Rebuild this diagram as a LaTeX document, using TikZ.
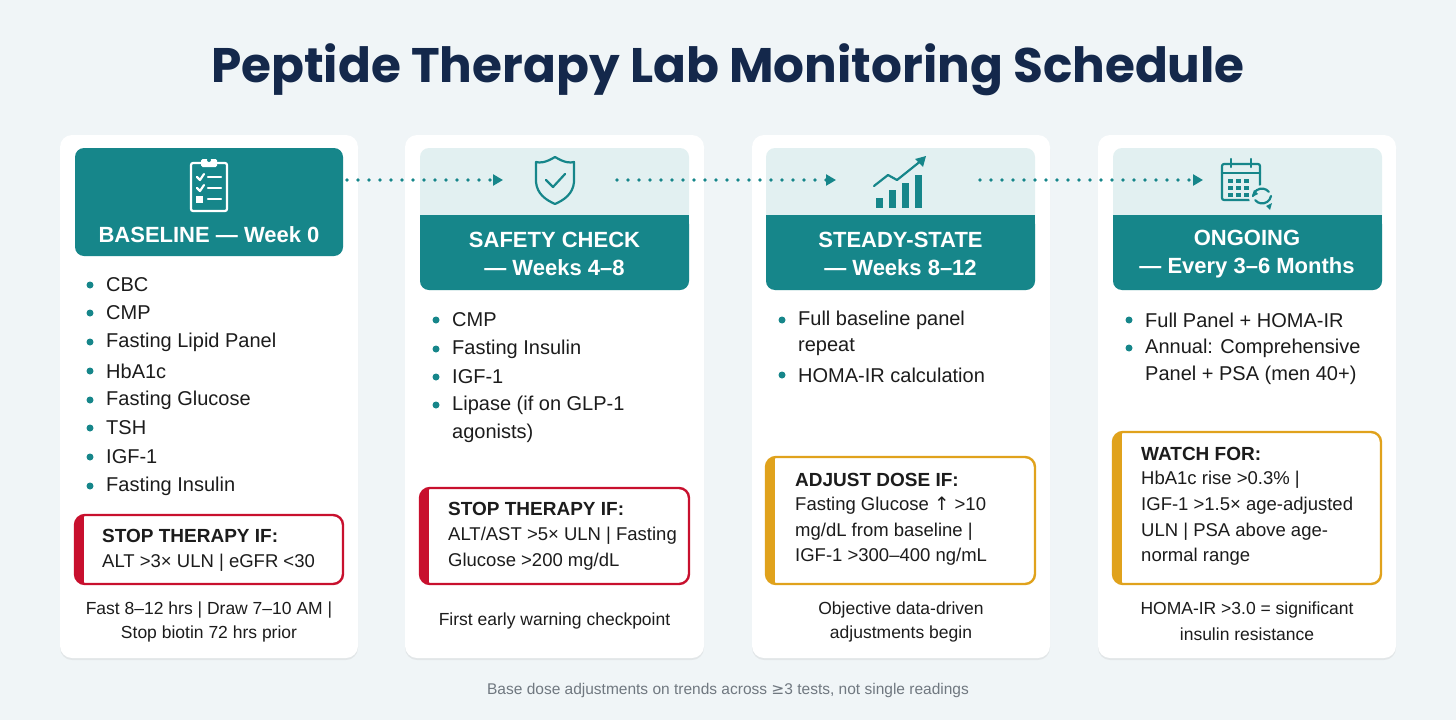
\documentclass[tikz,border=0pt]{standalone}
\usepackage{fontspec}
\setmainfont{Liberation Sans}
\newfontfamily\titlefont{Poppins}
\newfontfamily\symfont{DejaVu Sans}
\usetikzlibrary{arrows.meta,shadows}
\definecolor{bg}{HTML}{F0F5F7}
\definecolor{teal}{HTML}{16868A}
\definecolor{lteal}{HTML}{E2F0F1}
\definecolor{navy}{HTML}{14284B}
\definecolor{ink}{HTML}{1C1C1C}
\definecolor{red}{HTML}{C8102E}
\definecolor{gold}{HTML}{E0A21C}
\definecolor{gray}{HTML}{707880}
\tikzset{
 card/.style={fill=white,rounded corners=12pt,drop shadow={opacity=0.12,shadow xshift=0pt,shadow yshift=-2pt}},
 txt/.style={anchor=west,inner sep=0pt,text=ink,font=\fontsize{20}{24}\selectfont},
 atxt/.style={anchor=west,inner sep=0pt,text=ink,font=\fontsize{18.5}{23}\selectfont},
 ftxt/.style={anchor=center,inner sep=0pt,text=ink,font=\fontsize{17.5}{20}\selectfont},
 htxt/.style={inner sep=0pt,text=white,font=\bfseries\fontsize{22}{28}\selectfont,align=center},
 dot/.style={circle,fill=teal,inner sep=0pt,minimum size=7pt},
 flow/.style={teal,line width=3.6pt,dash pattern=on 0pt off 11pt,line cap=round,-{Triangle[length=10pt,width=11pt]}},
}
\newcommand{\bul}[4]{\node[dot] (#1d) at (#2,#3) {}; \node[txt] (#1) at (#2+16,#3) {#4};}
\newcommand{\alertbox}[6]{% name, x1,y1,x2,y2,color
 \begin{scope}
 \clip[rounded corners=10pt] (#2,#3) rectangle (#4,#5);
 \fill[white] (#2,#3) rectangle (#4,#5);
 \fill[#6] (#2,#3) rectangle (#2+9,#5);
 \end{scope}
 \draw[#6,line width=2.4pt,rounded corners=10pt] (#2,#3) rectangle (#4,#5);
 \coordinate (#1) at (#2,#3);}
\begin{document}
\begin{tikzpicture}[x=1pt,y=-1pt]
\fill[bg] (0,0) rectangle (1456,720);
\useasboundingbox (0,0) rectangle (1456,720);
\node[font=\titlefont\bfseries\fontsize{48.5}{54}\selectfont,text=navy] (title) at (728,70) {Peptide Therapy Lab Monitoring Schedule};
% cards
\node[card,minimum width=298pt,minimum height=523pt] (c1) at (209,396.5) {};
\node[card,minimum width=299pt,minimum height=523pt] (c2) at (554.5,396.5) {};
\node[card,minimum width=298pt,minimum height=523pt] (c3) at (901,396.5) {};
\node[card,minimum width=298pt,minimum height=523pt] (c4) at (1247,396.5) {};
% headers
\fill[teal,rounded corners=9pt] (75,148) rectangle (343,256);
\foreach \x in {420,766,1113}{
 \fill[lteal,rounded corners=9pt] (\x,148) rectangle (\x+269,290);
 \fill[teal,rounded corners=9pt] (\x,215) rectangle (\x+269,290);
 \fill[teal] (\x,215) rectangle (\x+269,225);
}
\node[htxt] (h1) at (209,235) {BASELINE — Week 0};
\node[htxt] (h2) at (554.5,254) {SAFETY CHECK\\— Weeks 4–8};
\node[htxt] (h3) at (900.5,254) {STEADY-STATE\\— Weeks 8–12};
\node[htxt] (h4) at (1247,254) {ONGOING\\— Every 3–6 Months};
% icons
\begin{scope}[white,line width=2.2pt,line cap=round,line join=round]
 \draw[rounded corners=2pt] (191,163) rectangle (227,211);
 \fill[white,rounded corners=1.5pt] (201,159) rectangle (217,167);
 \fill[teal] (209,160) circle (2pt);
 \draw (197,177) -- (200,180) -- (204,174); \draw (208,177) -- (221,177);
 \draw (197,188) -- (200,191) -- (204,185); \draw (208,188) -- (221,188);
 \fill[white] (196,196) rectangle (203,203); \draw (208,199) -- (221,199);
\end{scope}
\begin{scope}[teal,line width=2.2pt,line cap=round,line join=round]
 \draw (555,157) .. controls (545,163) and (540,163) .. (536,162) -- (536,182) .. controls (537,194) and (546,200) .. (555,204) .. controls (564,200) and (573,194) .. (574,182) -- (574,162) .. controls (570,163) and (565,163) .. (555,157) -- cycle;
 \draw (546,180) -- (553,187) -- (565,174);
 % chart
 \fill (876,198) rectangle (883,208); \fill (889,190) rectangle (896,208);
 \fill (902,183) rectangle (909,208); \fill (915,175) rectangle (922,208);
 \draw (874,186) -- (888,175) -- (897,180) -- (922,160);
 \fill (926,156) -- (915,159) -- (923,167) -- cycle;
 % calendar
 \draw[rounded corners=2pt] (1222,164) rectangle (1260,200);
 \draw (1222,173) -- (1260,173);
 \draw (1231,159) -- (1231,167); \draw (1251,159) -- (1251,167);
 \foreach \i in {0,1,2}{\foreach \j in {0,1,2}{\fill (1228+\i*8,179+\j*7) rectangle +(5,4);}}
 \fill[lteal] (1262,198) circle (13pt);
 \draw (1253,196) arc (190:320:9); \draw (1271,196) arc (10:140:9);
 \fill (1266,206) -- (1272,203) -- (1270,210) -- cycle;
 \fill (1254,190) -- (1252,197) -- (1258,194) -- cycle;
\end{scope}
% flow arrows
\coordinate (a1s) at (347,180); \coordinate (a1e) at (503,180);
\coordinate (a2s) at (617,180); \coordinate (a2e) at (836,180);
\coordinate (a3s) at (980,180); \coordinate (a3e) at (1203,180);
\draw[flow] (a1s) -- (a1e);
\draw[flow] (a2s) -- (a2e);
\draw[flow] (a3s) -- (a3e);
% card1 bullets
\bul{b11}{90}{285}{CBC}
\bul{b12}{90}{313}{CMP}
\bul{b13}{90}{342}{Fasting Lipid Panel}
\bul{b14}{90}{371}{HbA1c}
\bul{b15}{90}{400}{Fasting Glucose}
\bul{b16}{90}{428}{TSH}
\bul{b17}{90}{457}{IGF-1}
\bul{b18}{90}{486}{Fasting Insulin}
% card2
\bul{b21}{436}{320}{CMP}
\bul{b22}{436}{349}{Fasting Insulin}
\bul{b23}{436}{377}{IGF-1}
\bul{b24}{436}{405}{Lipase (if on GLP-1}
\node[txt] (b24b) at (452,433) {agonists)};
% card3
\bul{b31}{782}{320}{Full baseline panel}
\node[txt] (b31b) at (798,347) {repeat};
\bul{b32}{782}{375}{HOMA-IR calculation}
% card4
\bul{b41}{1129}{320}{Full Panel + HOMA-IR}
\bul{b42}{1129}{348}{Annual: Comprehensive}
\node[txt] (b42b) at (1145,375) {Panel + PSA (men 40+)};
% alerts
\alertbox{al1}{75}{515}{343}{584}{red}
\node[atxt,font=\bfseries\fontsize{19}{23}\selectfont] (al1t) at (102,536) {STOP THERAPY IF:};
\node[atxt] (al1a) at (102,563) {ALT >3× ULN | eGFR <30};
\alertbox{al2}{420}{488}{689}{584}{red}
\node[atxt,font=\bfseries\fontsize{19}{23}\selectfont] (al2t) at (448,509) {STOP THERAPY IF:};
\node[atxt] (al2a) at (448,536) {ALT/AST >5× ULN | Fasting};
\node[atxt] (al2b) at (448,562) {Glucose >200 mg/dL};
\alertbox{al3}{766}{457}{1035}{584}{gold}
\node[atxt,font=\bfseries\fontsize{19}{23}\selectfont] (al3t) at (795,480) {ADJUST DOSE IF:};
\node[atxt] (al3a) at (795,506) {Fasting Glucose {\symfont↑} >10};
\node[atxt] (al3b) at (795,532) {mg/dL from baseline |};
\node[atxt] (al3c) at (795,557) {IGF-1 >300–400 ng/mL};
\alertbox{al4}{1113}{432}{1381}{584}{gold}
\node[atxt,font=\bfseries\fontsize{19}{23}\selectfont] (al4t) at (1141,454) {WATCH FOR:};
\node[atxt] (al4a) at (1141,480) {HbA1c rise >0.3\% |};
\node[atxt] (al4b) at (1141,506) {IGF-1 >1.5× age-adjusted};
\node[atxt] (al4c) at (1141,532) {ULN | PSA above age-};
\node[atxt] (al4d) at (1141,557) {normal range};
% footers
\node[ftxt] (f1a) at (209,610) {Fast 8–12 hrs | Draw 7–10 AM |};
\node[ftxt] (f1b) at (209,634) {Stop biotin 72 hrs prior};
\node[ftxt] (f2) at (554.5,621) {First early warning checkpoint};
\node[ftxt] (f3a) at (901,610) {Objective data-driven};
\node[ftxt] (f3b) at (901,634) {adjustments begin};
\node[ftxt] (f4a) at (1247,610) {HOMA-IR >3.0 = significant};
\node[ftxt] (f4b) at (1247,634) {insulin resistance};
\node[text=gray,font=\fontsize{15.5}{18}\selectfont] (note) at (728,690) {Base dose adjustments on trends across {\symfont≥}3 tests, not single readings};
\end{tikzpicture}
\end{document}
